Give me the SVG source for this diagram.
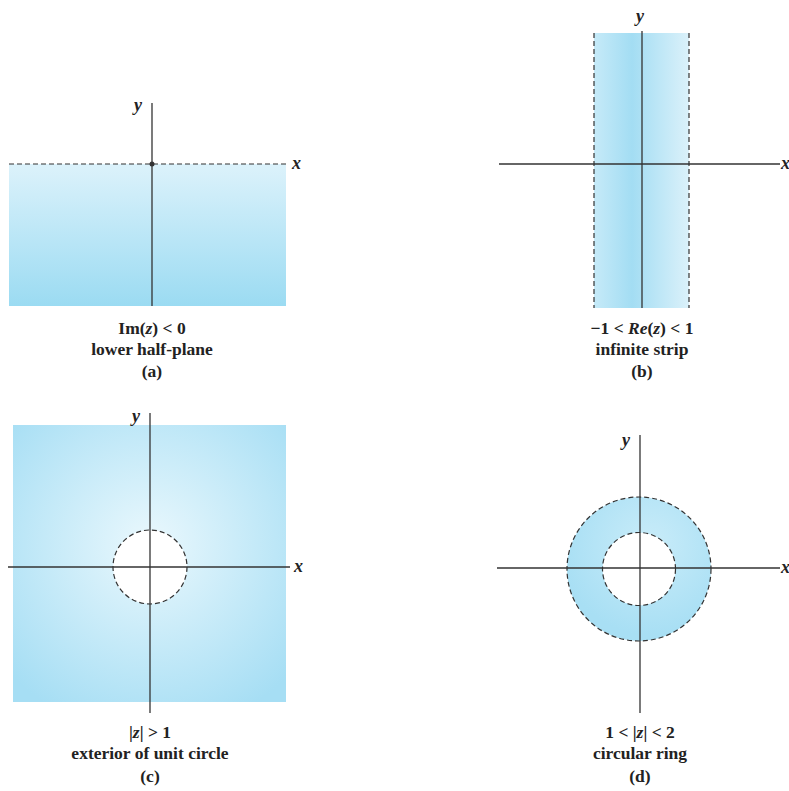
<svg xmlns="http://www.w3.org/2000/svg" width="789" height="791" viewBox="0 0 789 791">
<style>
.axis{stroke:#333;stroke-width:1.3;fill:none}
.dash{stroke:#333;stroke-width:1.2;stroke-dasharray:5 3}
.lbl{font-family:"Liberation Serif","Times New Roman",serif;font-weight:bold;font-size:17.5px;fill:#222;text-anchor:middle}
.var{font-family:"Liberation Serif","Times New Roman",serif;font-weight:bold;font-style:italic;font-size:18px;fill:#222}
.it{font-style:italic}
</style>
<defs>
<linearGradient id="ga" x1="0" y1="0" x2="0" y2="1">
<stop offset="0" stop-color="#dcf2fb"/>
<stop offset="1" stop-color="#9bdbf2"/>
</linearGradient>
<linearGradient id="gb" x1="0" y1="0" x2="1" y2="0">
<stop offset="0" stop-color="#c6eaf8"/>
<stop offset="0.4" stop-color="#a3ddf3"/>
<stop offset="1" stop-color="#dbf1fa"/>
</linearGradient>
<radialGradient id="gc" cx="150" cy="545" r="190" gradientUnits="userSpaceOnUse">
<stop offset="0" stop-color="#eaf8fd"/>
<stop offset="1" stop-color="#a6def4"/>
</radialGradient>
<radialGradient id="gd" cx="650" cy="545" r="90" gradientUnits="userSpaceOnUse">
<stop offset="0" stop-color="#c9ecf9"/>
<stop offset="1" stop-color="#a8dff4"/>
</radialGradient>
</defs>

<g id="panel-a">
<rect x="9" y="164" width="277" height="142" fill="url(#ga)"/>
<line class="dash" x1="9" y1="164" x2="286" y2="164"/>
<line class="axis" x1="152" y1="103" x2="152" y2="306"/>
<circle cx="152" cy="164" r="2.5" fill="#333"/>
<text class="var" x="292" y="169">x</text>
<text class="var" x="134" y="111">y</text>
<text class="lbl" x="152" y="334">Im(<tspan class="it">z</tspan>) &lt; 0</text>
<text class="lbl" x="152" y="355">lower half-plane</text>
<text class="lbl" x="152" y="377">(a)</text>
</g>

<g id="panel-b">
<rect x="594" y="33" width="95" height="275" fill="url(#gb)"/>
<line class="dash" x1="594" y1="33" x2="594" y2="308"/>
<line class="dash" x1="689" y1="33" x2="689" y2="308"/>
<line class="axis" x1="642" y1="31" x2="642" y2="308"/>
<line class="axis" x1="499" y1="164" x2="780" y2="164"/>
<text class="var" x="781" y="169">x</text>
<text class="var" x="636" y="22">y</text>
<text class="lbl" x="642" y="334">−1 &lt; <tspan class="it">Re</tspan>(<tspan class="it">z</tspan>) &lt; 1</text>
<text class="lbl" x="642" y="355">infinite strip</text>
<text class="lbl" x="642" y="377">(b)</text>
</g>

<g id="panel-c">
<rect x="13" y="425" width="273" height="277" fill="url(#gc)"/>
<circle class="dash" cx="150" cy="567" r="37" style="fill:#fff"/>
<line class="axis" x1="150" y1="413" x2="150" y2="713"/>
<line class="axis" x1="8" y1="567" x2="290" y2="567"/>
<text class="var" x="294" y="572">x</text>
<text class="var" x="132" y="422">y</text>
<text class="lbl" x="150" y="738">|<tspan class="it">z</tspan>| &gt; 1</text>
<text class="lbl" x="150" y="759">exterior of unit circle</text>
<text class="lbl" x="150" y="782">(c)</text>
</g>

<g id="panel-d">
<circle class="dash" cx="639" cy="569" r="72" style="fill:url(#gd)"/>
<circle class="dash" cx="639" cy="569" r="36.5" style="fill:#fff"/>
<line class="axis" x1="640" y1="435" x2="640" y2="713"/>
<line class="axis" x1="497" y1="568" x2="780" y2="568"/>
<text class="var" x="781" y="573">x</text>
<text class="var" x="622" y="446">y</text>
<text class="lbl" x="640" y="738">1 &lt; |<tspan class="it">z</tspan>| &lt; 2</text>
<text class="lbl" x="640" y="759">circular ring</text>
<text class="lbl" x="640" y="782">(d)</text>
</g>
</svg>
